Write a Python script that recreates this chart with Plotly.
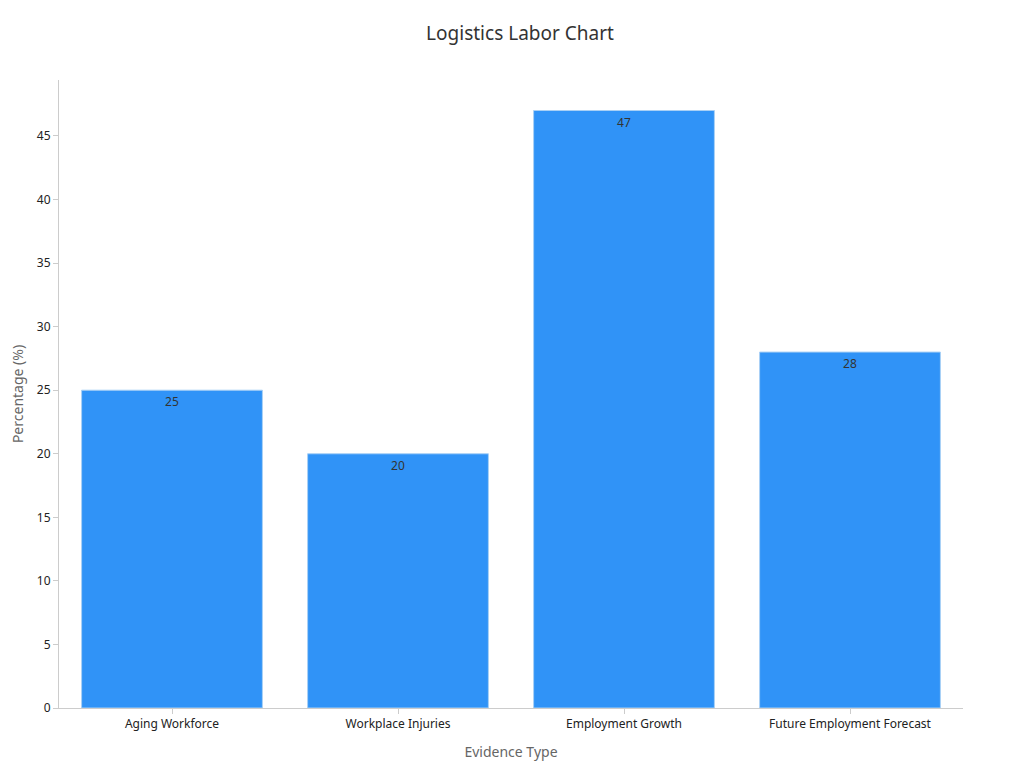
import plotly.graph_objects as go

categories = ["Aging Workforce", "Workplace Injuries", "Employment Growth", "Future Employment Forecast"]
values = [25, 20, 47, 28]

fig = go.Figure(go.Bar(
    x=categories, y=values, text=values, textposition="inside", insidetextanchor="end",
    textfont=dict(color="#333333", size=12),
    marker=dict(color="#3093f7", line=dict(color="#a9d0f5", width=1)),
    width=0.8,
))
fig.update_layout(
    width=1024, height=768, plot_bgcolor="white", paper_bgcolor="white",
    font=dict(family="Noto Sans, DejaVu Sans", size=12, color="#222"),
    title=dict(text="Logistics Labor Chart", x=0.5, xanchor="center", y=0.976, font=dict(size=19, color="#333")),
    margin=dict(l=51, r=69, t=72, b=68),
    showlegend=False,
)
fig.update_xaxes(title=dict(text="Evidence Type", font=dict(size=14, color="#666")),
                 showline=True, linecolor="#ccc", ticks="outside", tickcolor="#ccc", ticklen=5)
fig.update_yaxes(title=dict(text="Percentage (%)", font=dict(size=14, color="#666"), standoff=10),
                 automargin=False,
                 range=[0, 49.4], dtick=5, showgrid=False, zeroline=False,
                 showline=True, linecolor="#ccc", ticks="outside", tickcolor="#ccc", ticklen=5)
fig.write_html("out.html")
